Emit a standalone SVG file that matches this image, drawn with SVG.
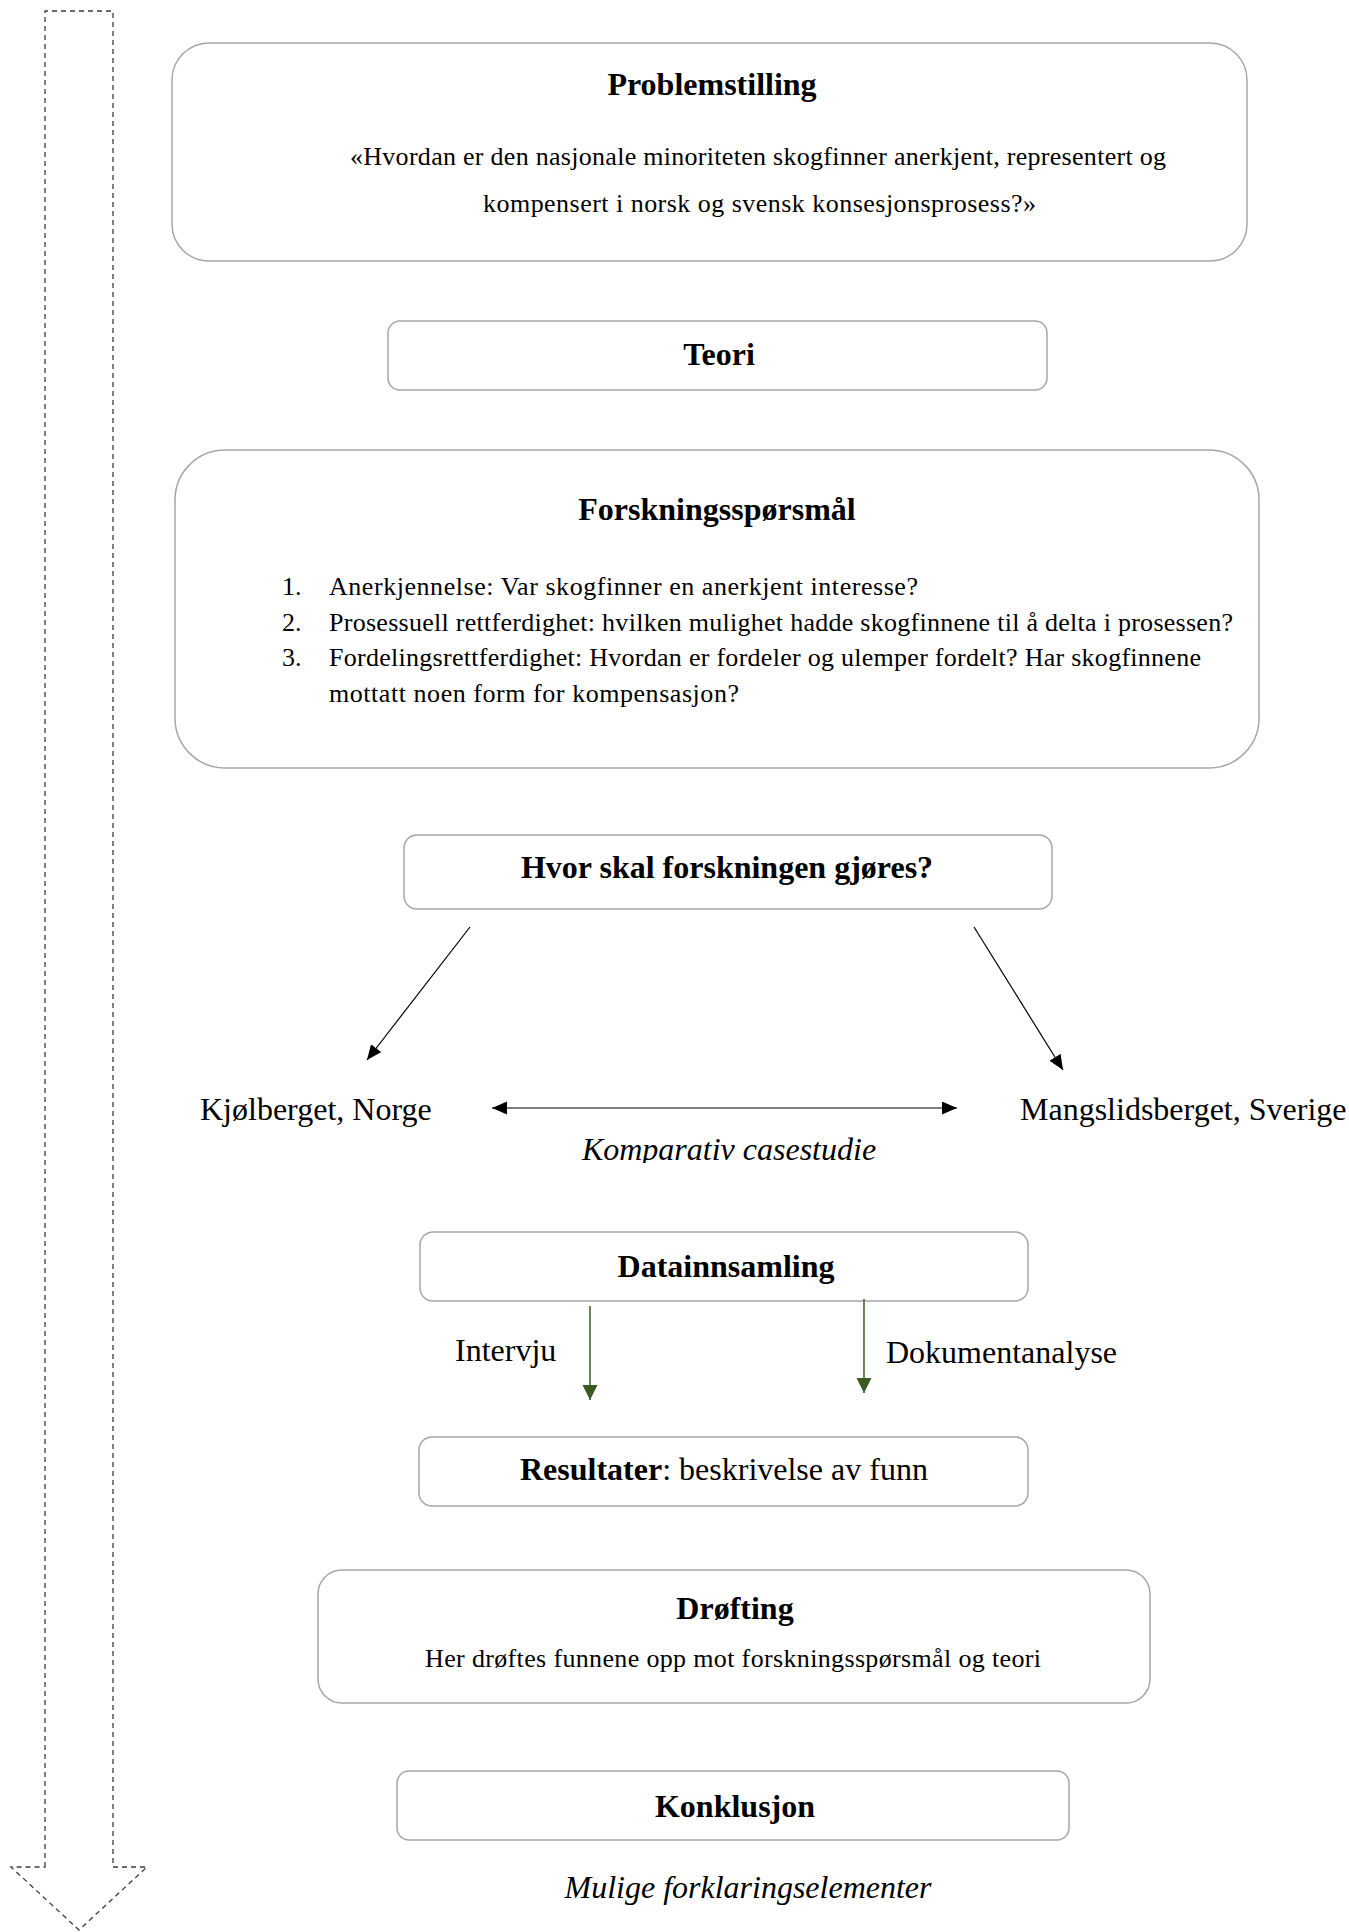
<svg xmlns="http://www.w3.org/2000/svg" width="1349" height="1932" viewBox="0 0 1349 1932">
<style>
text{font-family:"Liberation Serif","Times New Roman",serif;fill:#000}
.box{fill:#fff;stroke:#a6a6a6;stroke-width:1.5}
.t{font-weight:bold;font-size:32px;text-anchor:middle}
.r32{font-size:32px}
.it{font-style:italic;font-size:32px;text-anchor:middle}
.b24{font-size:26px}
.ln{stroke:#000;stroke-width:1.2;fill:none}
.gr{stroke:#3a5a23;stroke-width:1.5;fill:none}
</style>
<defs>
<marker id="ah" markerUnits="userSpaceOnUse" markerWidth="16" markerHeight="14" refX="15" refY="6.5" orient="auto">
<path d="M0,0 L15,6.5 L0,13 z" fill="#000"/>
</marker>
<marker id="ahs" markerUnits="userSpaceOnUse" markerWidth="16" markerHeight="14" refX="15" refY="6.5" orient="auto-start-reverse">
<path d="M0,0 L15,6.5 L0,13 z" fill="#000"/>
</marker>
<marker id="ag" markerUnits="userSpaceOnUse" markerWidth="16" markerHeight="16" refX="15" refY="7.5" orient="auto">
<path d="M0,0 L15,7.5 L0,15 z" fill="#3a5a23"/>
</marker>
<clipPath id="clipK"><rect x="500" y="1120" width="460" height="43"/></clipPath>
</defs>

<g id="progress-arrow">
<path d="M45,1867 L45,11 L113,11 L113,1867 L147,1867 L79,1930 L11,1867 Z" fill="none" stroke="#3c3c3c" stroke-width="1.3" stroke-dasharray="5,4"/>
</g>

<g id="problemstilling">
<rect class="box" x="172" y="43" width="1075" height="218" rx="37"/>
<text class="t" x="712" y="95">Problemstilling</text>
<text class="b24" x="350" y="165" textLength="816" lengthAdjust="spacing">«Hvordan er den nasjonale minoriteten skogfinner anerkjent, representert og</text>
<text class="b24" x="483" y="212" textLength="553" lengthAdjust="spacing">kompensert i norsk og svensk konsesjonsprosess?»</text>
</g>

<g id="teori">
<rect class="box" x="388" y="321" width="659" height="69" rx="12"/>
<text class="t" x="719" y="365">Teori</text>
</g>

<g id="forskningssporsmal">
<rect class="box" x="175" y="450" width="1084" height="318" rx="50"/>
<text class="t" x="717" y="520">Forskningsspørsmål</text>
<text class="b24" x="282" y="595">1.</text>
<text class="b24" x="282" y="631">2.</text>
<text class="b24" x="282" y="666">3.</text>
<text class="b24" x="329" y="595" textLength="589" lengthAdjust="spacing">Anerkjennelse: Var skogfinner en anerkjent interesse?</text>
<text class="b24" x="329" y="631" textLength="904" lengthAdjust="spacing">Prosessuell rettferdighet: hvilken mulighet hadde skogfinnene til å delta i prosessen?</text>
<text class="b24" x="329" y="666" textLength="872" lengthAdjust="spacing">Fordelingsrettferdighet:  Hvordan er fordeler og ulemper fordelt? Har skogfinnene</text>
<text class="b24" x="329" y="702" textLength="410" lengthAdjust="spacing">mottatt noen form for kompensasjon?</text>
</g>

<g id="hvor">
<rect class="box" x="404" y="835" width="648" height="74" rx="13"/>
<text class="t" x="727" y="878">Hvor skal forskningen gjøres?</text>
</g>

<g id="kjolberget">
<text class="r32" x="200" y="1120">Kjølberget, Norge</text>
</g>

<g id="mangslidsberget">
<text class="r32" x="1020" y="1120">Mangslidsberget, Sverige</text>
</g>

<g id="komparativ">
<text class="it" x="729" y="1160" clip-path="url(#clipK)">Komparativ casestudie</text>
</g>

<g id="datainnsamling">
<rect class="box" x="420" y="1232" width="608" height="69" rx="13"/>
<text class="t" x="726" y="1277">Datainnsamling</text>
</g>

<g id="intervju">
<text class="r32" x="455" y="1361">Intervju</text>
</g>

<g id="dokumentanalyse">
<text class="r32" x="886" y="1363">Dokumentanalyse</text>
</g>

<g id="resultater">
<rect class="box" x="419" y="1437" width="609" height="69" rx="13"/>
<text class="r32" x="520" y="1480"><tspan font-weight="bold">Resultater</tspan>: beskrivelse  av funn</text>
</g>

<g id="drofting">
<rect class="box" x="318" y="1570" width="832" height="133" rx="24"/>
<text class="t" x="735" y="1619">Drøfting</text>
<text x="733" y="1667" font-size="26" text-anchor="middle" textLength="616" lengthAdjust="spacing">Her drøftes funnene opp mot forskningsspørsmål og teori</text>
</g>

<g id="konklusjon">
<rect class="box" x="397" y="1771" width="672" height="69" rx="12"/>
<text class="t" x="735" y="1817">Konklusjon</text>
</g>

<g id="mulige">
<text class="it" x="748" y="1898">Mulige forklaringselementer</text>
</g>

<g id="connectors">
<line class="ln" x1="470" y1="927" x2="367" y2="1060" marker-end="url(#ah)"/>
<line class="ln" x1="974" y1="927" x2="1063" y2="1070" marker-end="url(#ah)"/>
<line class="ln" x1="492" y1="1108" x2="957" y2="1108" stroke-width="1.8" marker-start="url(#ahs)" marker-end="url(#ahs)"/>
<line class="gr" x1="590" y1="1306" x2="590" y2="1400" marker-end="url(#ag)"/>
<line class="gr" x1="864" y1="1299" x2="864" y2="1393" marker-end="url(#ag)"/>
</g>
</svg>
